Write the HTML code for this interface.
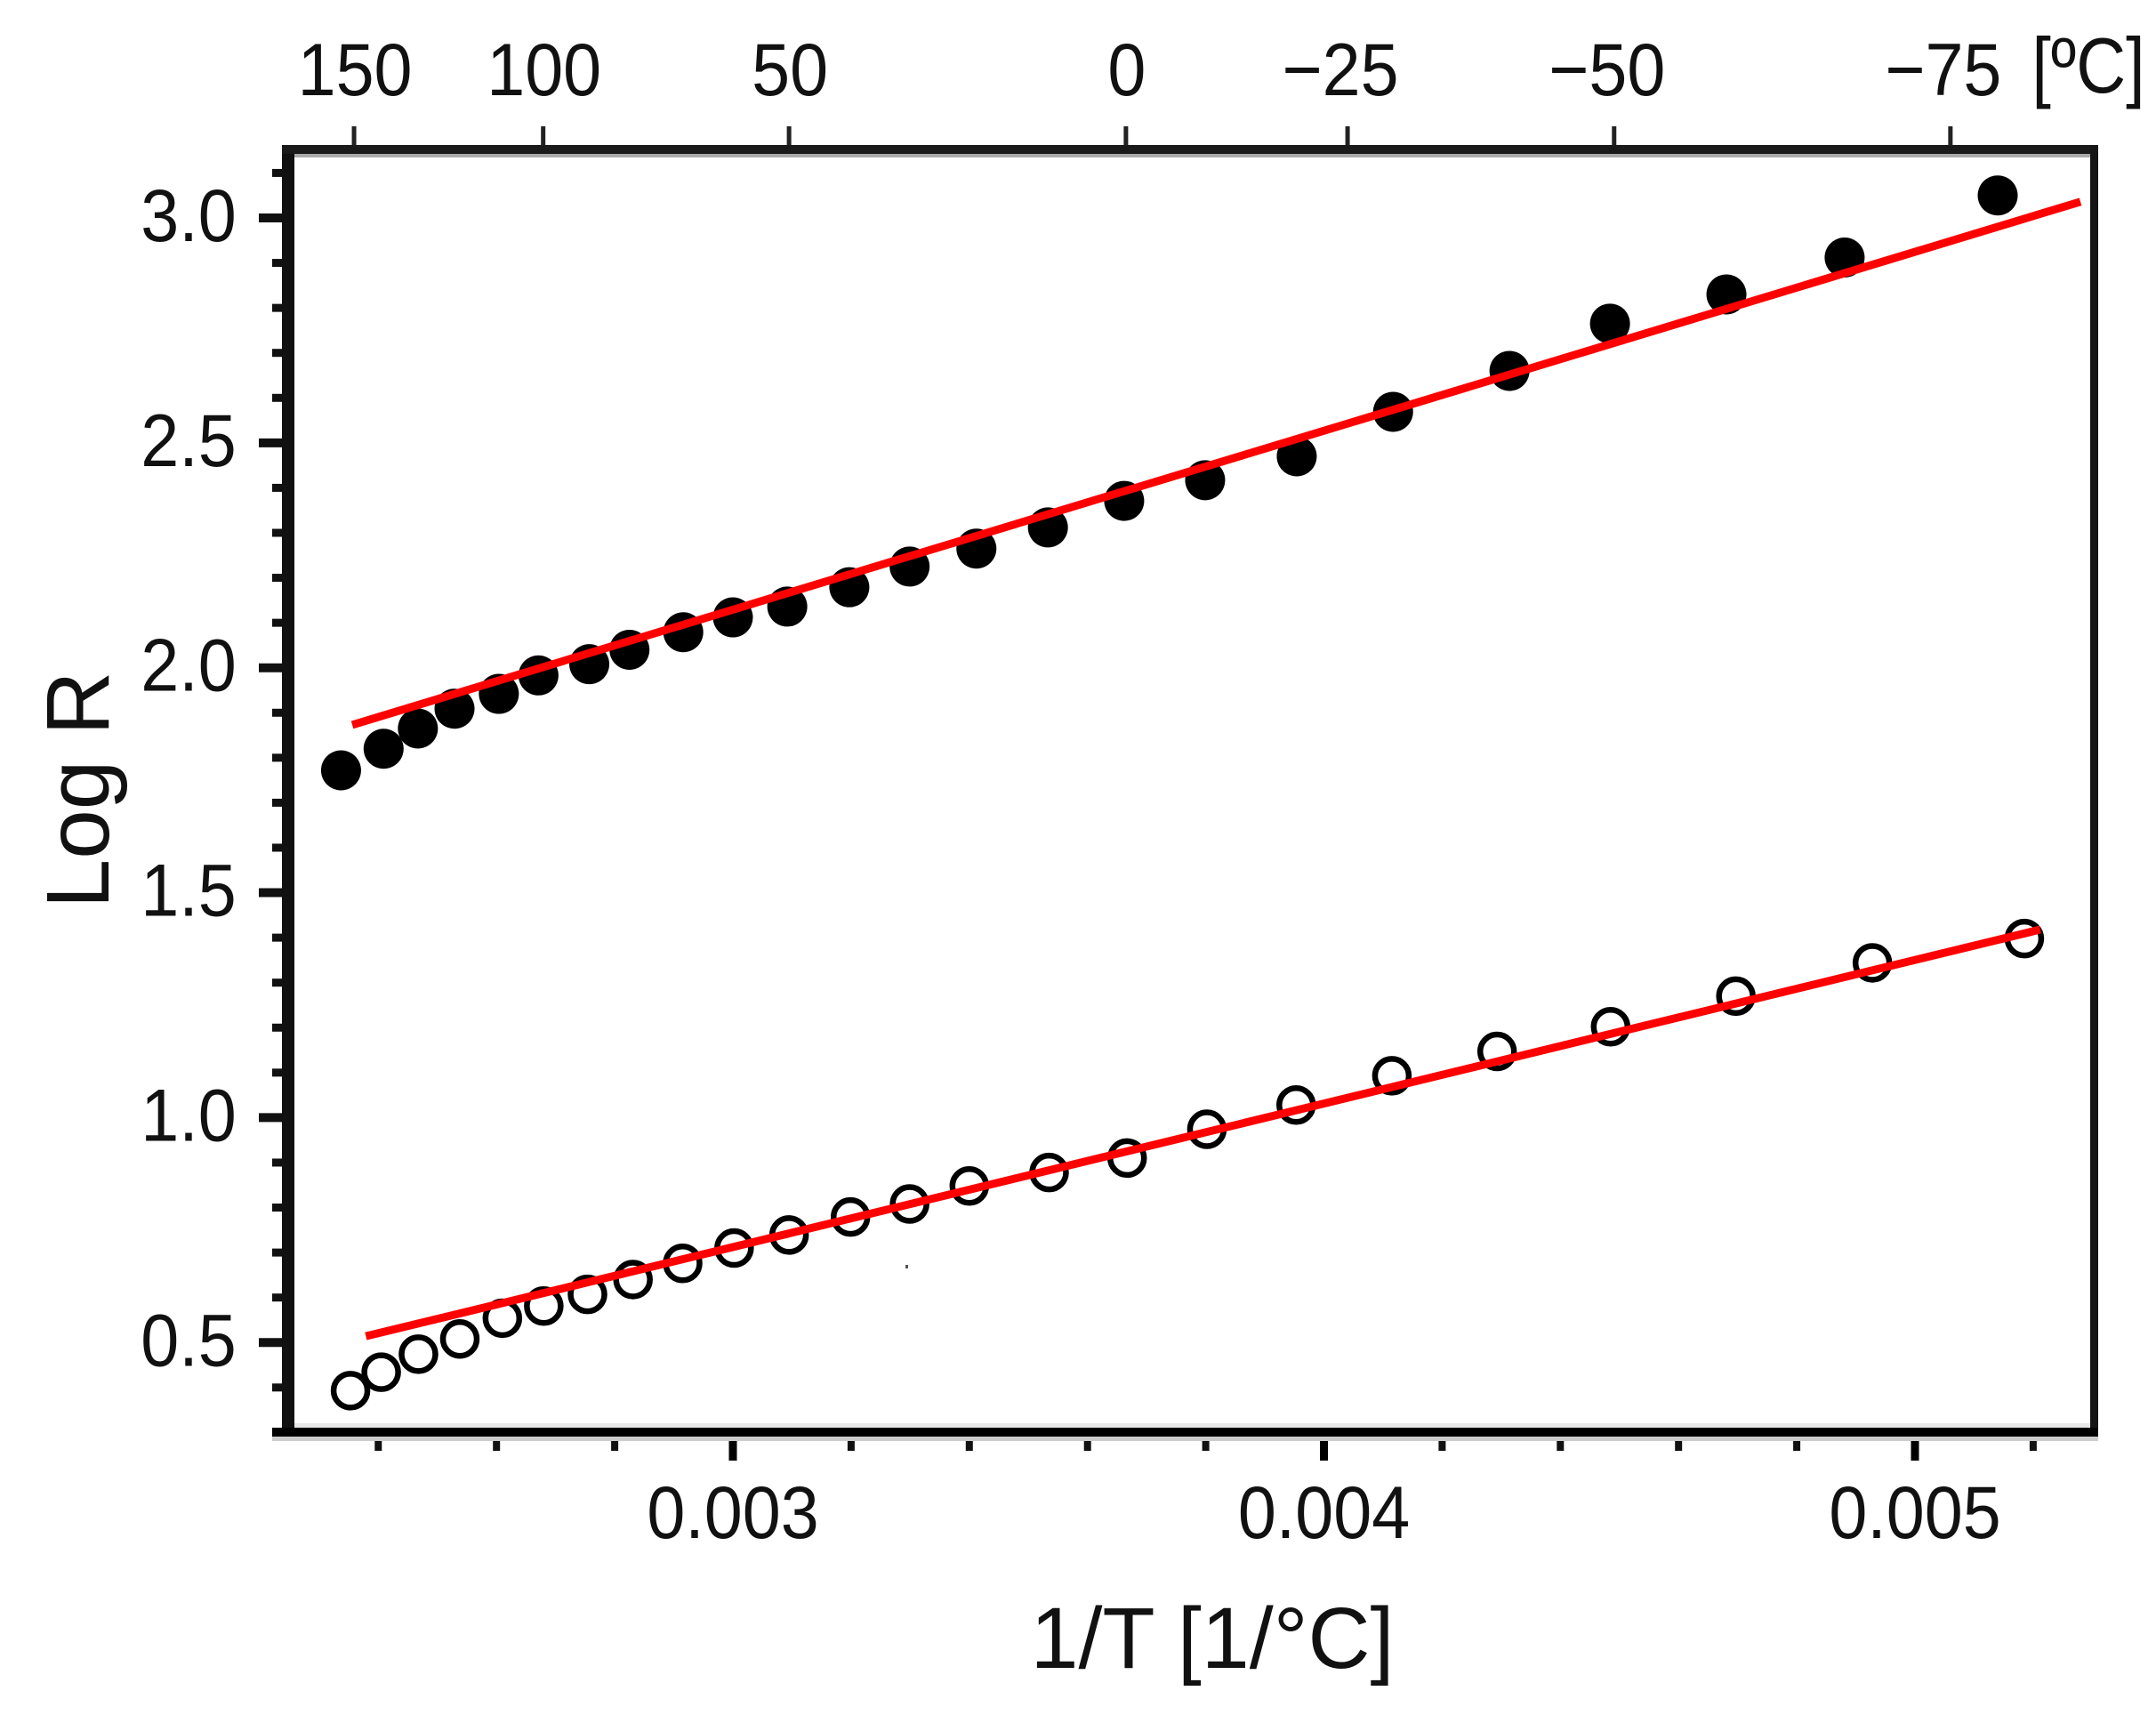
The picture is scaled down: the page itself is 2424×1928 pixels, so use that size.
<!DOCTYPE html>
<html lang="en">
<head>
<meta charset="utf-8">
<title>Log R versus 1/T</title>
<style>
  html, body { margin: 0; padding: 0; background: #fff; }
  #chart { display: block; width: 2424px; height: 1928px; font-family: "Liberation Sans", sans-serif; }
</style>
</head>
<body>
<svg id="chart" xmlns="http://www.w3.org/2000/svg" width="2424" height="1928" viewBox="0 0 2424 1928">
  <rect x="0" y="0" width="2424" height="1928" fill="#fff"></rect>
  <g id="ticks"></g>
  <g id="frame">
    <rect x="324" y="173" width="2030" height="4" fill="#aaa"></rect>
    <rect x="331" y="1600" width="2019" height="5" fill="#e8e8e8"></rect>
    <rect x="306" y="1615" width="2053" height="5" fill="#ccc"></rect>
    <rect x="317" y="163" width="14" height="1452" fill="#111"></rect>
    <rect x="317" y="163" width="2042" height="10" fill="#1a1a1a"></rect>
    <rect x="2350" y="163" width="9" height="1452" fill="#151515"></rect>
    <rect x="306" y="1605" width="2053" height="10" fill="#000"></rect>
  </g>
  <rect x="1018" y="1422" width="3" height="4" fill="#555"></rect>
  <g id="series"></g>
  <g id="labels"></g>
  <text x="122" y="888" font-size="100" text-anchor="middle" fill="#111" transform="rotate(-90 122 888)">Log R</text>
  <text x="1363" y="1875" font-size="97" text-anchor="middle" fill="#111">1/T [1/°C]</text>
  <text x="0" y="0" font-size="88" text-anchor="middle" fill="#111" transform="translate(2348 104) scale(0.88 1)">[ºC]</text>
</svg>
<script>
// Chart data
const yMajorValues = [0.5, 1.0, 1.5, 2.0, 2.5, 3.0];
const yMinorValues = [0.4, 0.6, 0.7, 0.8, 0.9, 1.1, 1.2, 1.3, 1.4, 1.6, 1.7, 1.8, 1.9, 2.1, 2.2, 2.3, 2.4, 2.6, 2.7, 2.8, 2.9, 3.1];
const yTickLabels = ["0.5", "1.0", "1.5", "2.0", "2.5", "3.0"];
const xMajorValues = [0.003, 0.004, 0.005];
const xMinorValues = [0.0024, 0.0026, 0.0028, 0.0032, 0.0034, 0.0036, 0.0038, 0.0042, 0.0044, 0.0046, 0.0048, 0.0052];
const xTickLabels = ["0.003", "0.004", "0.005"];
const topTemps = [150, 100, 50, 0, -25, -50, -75];
const topTempInverse = [0.002359, 0.002679, 0.003095, 0.003665, 0.00404, 0.004491, 0.00506];

const filledX = [0.002337, 0.002409, 0.002467, 0.002529, 0.002604, 0.002671, 0.002757, 0.002825, 0.002916, 0.003000, 0.003092, 0.003197, 0.003299, 0.003412, 0.003533, 0.003662, 0.003799, 0.003954, 0.004117, 0.004314, 0.004484, 0.004681, 0.004881, 0.00514];
const filledY = [1.772, 1.820, 1.865, 1.909, 1.942, 1.983, 2.008, 2.040, 2.079, 2.112, 2.136, 2.179, 2.225, 2.265, 2.312, 2.371, 2.417, 2.470, 2.569, 2.660, 2.765, 2.830, 2.912, 3.050];
const openX = [0.002353, 0.002405, 0.002468, 0.002538, 0.00261, 0.00268, 0.002754, 0.002831, 0.002915, 0.003002, 0.003095, 0.003199, 0.003299, 0.0034, 0.003535, 0.003667, 0.003802, 0.003953, 0.004115, 0.004293, 0.004485, 0.004697, 0.004928, 0.005185];
const openY = [0.393, 0.434, 0.474, 0.508, 0.554, 0.581, 0.607, 0.640, 0.676, 0.710, 0.739, 0.779, 0.808, 0.848, 0.878, 0.910, 0.974, 1.028, 1.093, 1.147, 1.202, 1.270, 1.344, 1.398];
const filledFitX = [0.002356, 0.00528];
const filledFitY = [1.873, 3.036];
const openFitX = [0.002379, 0.005212];
const openFitY = [0.514, 1.418];

// Axis functions
function xScale(v) { return 824 + (v - 0.003) * 664500; }
function yScale(v) { return 245 + (3.0 - v) * 505.7; }

const NS = "http://www.w3.org/2000/svg";
const ticksGroup = document.getElementById("ticks");
const seriesGroup = document.getElementById("series");
const labelsGroup = document.getElementById("labels");

function tickLine(x1, y1, x2, y2, width, color) {
  const el = document.createElementNS(NS, "line");
  el.setAttribute("x1", x1);
  el.setAttribute("y1", y1);
  el.setAttribute("x2", x2);
  el.setAttribute("y2", y2);
  el.setAttribute("stroke", color);
  el.setAttribute("stroke-width", width);
  ticksGroup.appendChild(el);
  return el;
}

function label(str, x, y) {
  const el = document.createElementNS(NS, "text");
  el.setAttribute("x", 0);
  el.setAttribute("y", 0);
  el.setAttribute("font-size", 84);
  el.setAttribute("text-anchor", "middle");
  el.setAttribute("fill", "#111");
  el.setAttribute("transform", "translate(" + x + " " + y + ") scale(0.92 1)");
  el.textContent = str;
  labelsGroup.appendChild(el);
  return el;
}

yMajorValues.forEach(function (v, i) {
  const tick = tickLine(291, yScale(v), 318, yScale(v), 10, "#111");
  
  
  const text = label(yTickLabels[i], 212, yScale(v) + 26);
  
  
});
yMinorValues.forEach(function (v) {
  const tick = tickLine(306, yScale(v), 318, yScale(v), 9, "#111");
  
  
});
xMajorValues.forEach(function (v, i) {
  const tick = tickLine(xScale(v), 1614, xScale(v), 1642, 9, "#000");
  
  
  const text = label(xTickLabels[i], xScale(v), 1729);
  
  
});
xMinorValues.forEach(function (v) {
  const tick = tickLine(xScale(v), 1614, xScale(v), 1631, 8, "#111");
  
  
});
topTemps.forEach(function (t, i) {
  const px = xScale(topTempInverse[i]);
  const tick = tickLine(px, 142, px, 165, 5, "#222");
  
  
  const str = t < 0 ? "\u2212" + Math.abs(t) : String(t);
  const text = label(str, px + (t < 0 ? -8 : 1), 107);
  
  
});

filledX.forEach(function (v, i) {
  const dot = document.createElementNS(NS, "circle");
  dot.setAttribute("cx", xScale(v));
  dot.setAttribute("cy", yScale(filledY[i]));
  dot.setAttribute("r", 22.5);
  dot.setAttribute("fill", "#000");
  
  
  seriesGroup.appendChild(dot);
});
openX.forEach(function (v, i) {
  const dot = document.createElementNS(NS, "circle");
  dot.setAttribute("cx", xScale(v));
  dot.setAttribute("cy", yScale(openY[i]));
  dot.setAttribute("r", 19);
  dot.setAttribute("fill", "none");
  dot.setAttribute("stroke", "#000");
  dot.setAttribute("stroke-width", 6.5);
  
  
  seriesGroup.appendChild(dot);
});

const fitFilled = document.createElementNS(NS, "line");
fitFilled.setAttribute("x1", xScale(filledFitX[0]));
fitFilled.setAttribute("y1", yScale(filledFitY[0]));
fitFilled.setAttribute("x2", xScale(filledFitX[1]));
fitFilled.setAttribute("y2", yScale(filledFitY[1]));
fitFilled.setAttribute("stroke", "#f00");
fitFilled.setAttribute("stroke-width", 9);


seriesGroup.appendChild(fitFilled);

const fitOpen = document.createElementNS(NS, "line");
fitOpen.setAttribute("x1", xScale(openFitX[0]));
fitOpen.setAttribute("y1", yScale(openFitY[0]));
fitOpen.setAttribute("x2", xScale(openFitX[1]));
fitOpen.setAttribute("y2", yScale(openFitY[1]));
fitOpen.setAttribute("stroke", "#f00");
fitOpen.setAttribute("stroke-width", 9);


seriesGroup.appendChild(fitOpen);
</script>
</body>
</html>
